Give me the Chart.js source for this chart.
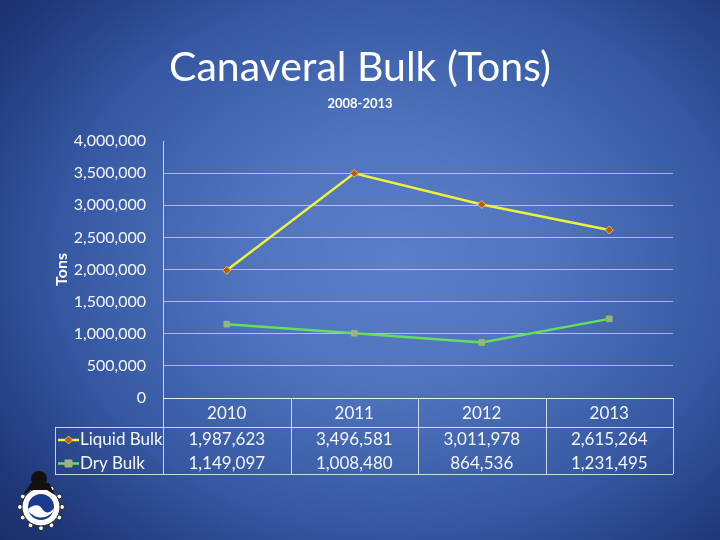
<!DOCTYPE html>
<html>
<head>
<meta charset="utf-8">
<script src="https://cdn.jsdelivr.net/npm/chart.js@4.4.0/dist/chart.umd.min.js"></script>
<style>
  html, body { margin: 0; padding: 0; }
  body {
    width: 720px; height: 540px; overflow: hidden;
    background: radial-gradient(ellipse 75% 80% at 55% 48%, #5b80c9 0%, #4f73bd 30%, #3658a2 62%, #1f3778 88%, #1a2e68 100%);
  }
  #wrap { width: 720px; height: 540px; }
</style>
</head>
<body>
<div id="wrap"><canvas id="myChart" width="720" height="540"></canvas></div>
<script>
const years = ['2010', '2011', '2012', '2013'];
const liquidBulk = [1987623, 3496581, 3011978, 2615264];
const dryBulk = [1149097, 1008480, 864536, 1231495];
const yTicks = [0, 500000, 1000000, 1500000, 2000000, 2500000, 3000000, 3500000, 4000000];

const fmt = v => v.toLocaleString('en-US');
const FONT = 'Lato, "Open Sans", sans-serif';
const lineCol = 'rgba(255,255,255,0.75)';

// title, subtitle, data table and logo
const slideDecor = {
  id: 'slideDecor',
  afterDraw(chart) {
    const ctx = chart.ctx;
    const x = chart.scales.x;
    const area = chart.chartArea;
    const half = (x.getPixelForValue(1) - x.getPixelForValue(0)) / 2;
    const top = area.bottom, r1 = 427, r2 = 451, bot = 474, labelLeft = 55;

    ctx.save();
    ctx.fillStyle = '#ffffff';
    ctx.textAlign = 'center';
    ctx.textBaseline = 'middle';
    ctx.font = '41px ' + FONT;
    ctx.fillText('Canaveral Bulk (Tons)', 360, 68);
    ctx.font = 'bold 13px ' + FONT;
    ctx.fillText('2008-2013', 360, 104);

    // table grid
    ctx.strokeStyle = lineCol;
    ctx.lineWidth = 1;
    ctx.beginPath();
    ctx.moveTo(labelLeft, r1 + 0.5); ctx.lineTo(area.right, r1 + 0.5);
    ctx.moveTo(labelLeft, bot + 0.5); ctx.lineTo(area.right, bot + 0.5);
    ctx.moveTo(labelLeft + 0.5, r1); ctx.lineTo(labelLeft + 0.5, bot);
    for (let i = 0; i <= years.length; i++) {
      const px = Math.round(x.getPixelForValue(0) - half + i * half * 2) + 0.5;
      ctx.moveTo(px, top); ctx.lineTo(px, bot);
    }
    ctx.stroke();

    ctx.font = '17px ' + FONT;
    ctx.fillStyle = '#f4f6fb';
    years.forEach((y, i) => {
      const px = x.getPixelForValue(i);
      ctx.fillText(y, px, (top + r1) / 2 + 1);
      ctx.fillText(fmt(liquidBulk[i]), px, (r1 + r2) / 2 + 1);
      ctx.fillText(fmt(dryBulk[i]), px, (r2 + bot) / 2 + 1);
    });

    // row labels with legend keys
    const rows = [
      { label: 'Liquid Bulk', y: (r1 + r2) / 2 + 1, ds: chart.data.datasets[0] },
      { label: 'Dry Bulk', y: (r2 + bot) / 2 + 1, ds: chart.data.datasets[1] }
    ];
    rows.forEach(r => {
      ctx.strokeStyle = r.ds.borderColor;
      ctx.lineWidth = 2.5;
      ctx.beginPath();
      ctx.moveTo(58, r.y); ctx.lineTo(79, r.y);
      ctx.stroke();
      ctx.fillStyle = r.ds.pointBackgroundColor;
      ctx.strokeStyle = r.ds.pointBorderColor;
      ctx.lineWidth = 1;
      ctx.beginPath();
      if (r.ds.pointStyle === 'rectRot') {
        ctx.moveTo(68.5, r.y - 4); ctx.lineTo(72.5, r.y); ctx.lineTo(68.5, r.y + 4); ctx.lineTo(64.5, r.y);
        ctx.closePath();
      } else {
        ctx.rect(65, r.y - 3.5, 7, 7);
      }
      ctx.fill(); ctx.stroke();
      ctx.fillStyle = '#f4f6fb';
      ctx.textAlign = 'left';
      ctx.fillText(r.label, 80, r.y);
    });

    // small emblem, bottom left
    const cx = 41, cy = 507;
    ctx.fillStyle = '#ffffff';
    ctx.strokeStyle = '#222';
    ctx.lineWidth = 1;
    for (let k = 0; k < 12; k++) {
      const a = k * Math.PI / 6;
      ctx.beginPath();
      ctx.arc(cx + Math.cos(a) * 21, cy + Math.sin(a) * 21, 2.5, 0, Math.PI * 2);
      ctx.fill(); ctx.stroke();
    }
    ctx.beginPath(); ctx.arc(cx, cy, 19, 0, Math.PI * 2); ctx.fill(); ctx.stroke();
    ctx.fillStyle = '#1b3a8c';
    ctx.beginPath(); ctx.arc(cx, cy, 13, 0, Math.PI * 2); ctx.fill();
    ctx.fillStyle = '#ffffff';
    ctx.beginPath();
    ctx.moveTo(cx - 13, cy + 2);
    ctx.quadraticCurveTo(cx - 3, cy - 6, cx + 2, cy + 3);
    ctx.quadraticCurveTo(cx + 7, cy + 9, cx + 13, cy + 1);
    ctx.lineTo(cx + 12, cy + 5);
    ctx.quadraticCurveTo(cx, cy + 16, cx - 12, cy + 5);
    ctx.closePath();
    ctx.fill();
    ctx.fillStyle = '#111';
    ctx.beginPath();
    ctx.arc(cx - 2, cy - 28, 8, 0, Math.PI * 2);
    ctx.fill();
    ctx.beginPath();
    ctx.moveTo(cx - 18, cy - 12); ctx.lineTo(cx - 10, cy - 24); ctx.lineTo(cx + 8, cy - 24); ctx.lineTo(cx + 14, cy - 12);
    ctx.lineTo(cx + 6, cy - 17); ctx.lineTo(cx - 10, cy - 17);
    ctx.closePath();
    ctx.fill();
    ctx.restore();
  }
};

const chartData = {
  labels: years,
  datasets: [{
    label: 'Liquid Bulk',
    data: liquidBulk,
    borderColor: '#eef23a',
    borderWidth: 2.5,
    pointStyle: 'rectRot',
    pointRadius: 4,
    pointBackgroundColor: '#c0561a',
    pointBorderColor: '#e6c23a',
    pointBorderWidth: 1
  }, {
    label: 'Dry Bulk',
    data: dryBulk,
    borderColor: '#62e05c',
    borderWidth: 2.5,
    pointStyle: 'rect',
    pointRadius: 4,
    pointBackgroundColor: '#a3ad8c',
    pointBorderColor: '#86c46a',
    pointBorderWidth: 1
  }]
};

const chartOptions = {
  responsive: false,
  animation: false,
  layout: { padding: { top: 141, right: 47, bottom: 142, left: 52 } },
  plugins: {
    legend: { display: false },
    tooltip: { enabled: false }
  },
  scales: {
    x: {
      offset: true,
      ticks: { display: false },
      grid: { display: false, drawTicks: false },
      border: { display: true, color: lineCol, width: 1 }
    },
    y: {
      min: 0,
      max: 4000000,
      afterBuildTicks: axis => { axis.ticks = yTicks.map(v => ({ value: v })); },
      afterFit: axis => { axis.width = 111; },
      ticks: {
        color: '#f4f6fb',
        font: { family: FONT, size: 16 },
        padding: 17,
        callback: v => fmt(v)
      },
      grid: {
        color: c => (c.tick && c.tick.value === 4000000) ? 'rgba(0,0,0,0)' : 'rgba(255,255,255,0.55)',
        drawTicks: false
      },
      border: { display: true, color: lineCol, width: 1 },
      title: {
        display: true,
        text: 'Tons',
        color: '#ffffff',
        font: { family: FONT, size: 16, weight: 'bold' },
        padding: 0
      }
    }
  }
};

const ctx = document.getElementById('myChart').getContext('2d');
const myChart = new Chart(ctx, {
  type: 'line',
  data: chartData,
  options: chartOptions,
  plugins: [slideDecor]
});
</script>
</body>
</html>
